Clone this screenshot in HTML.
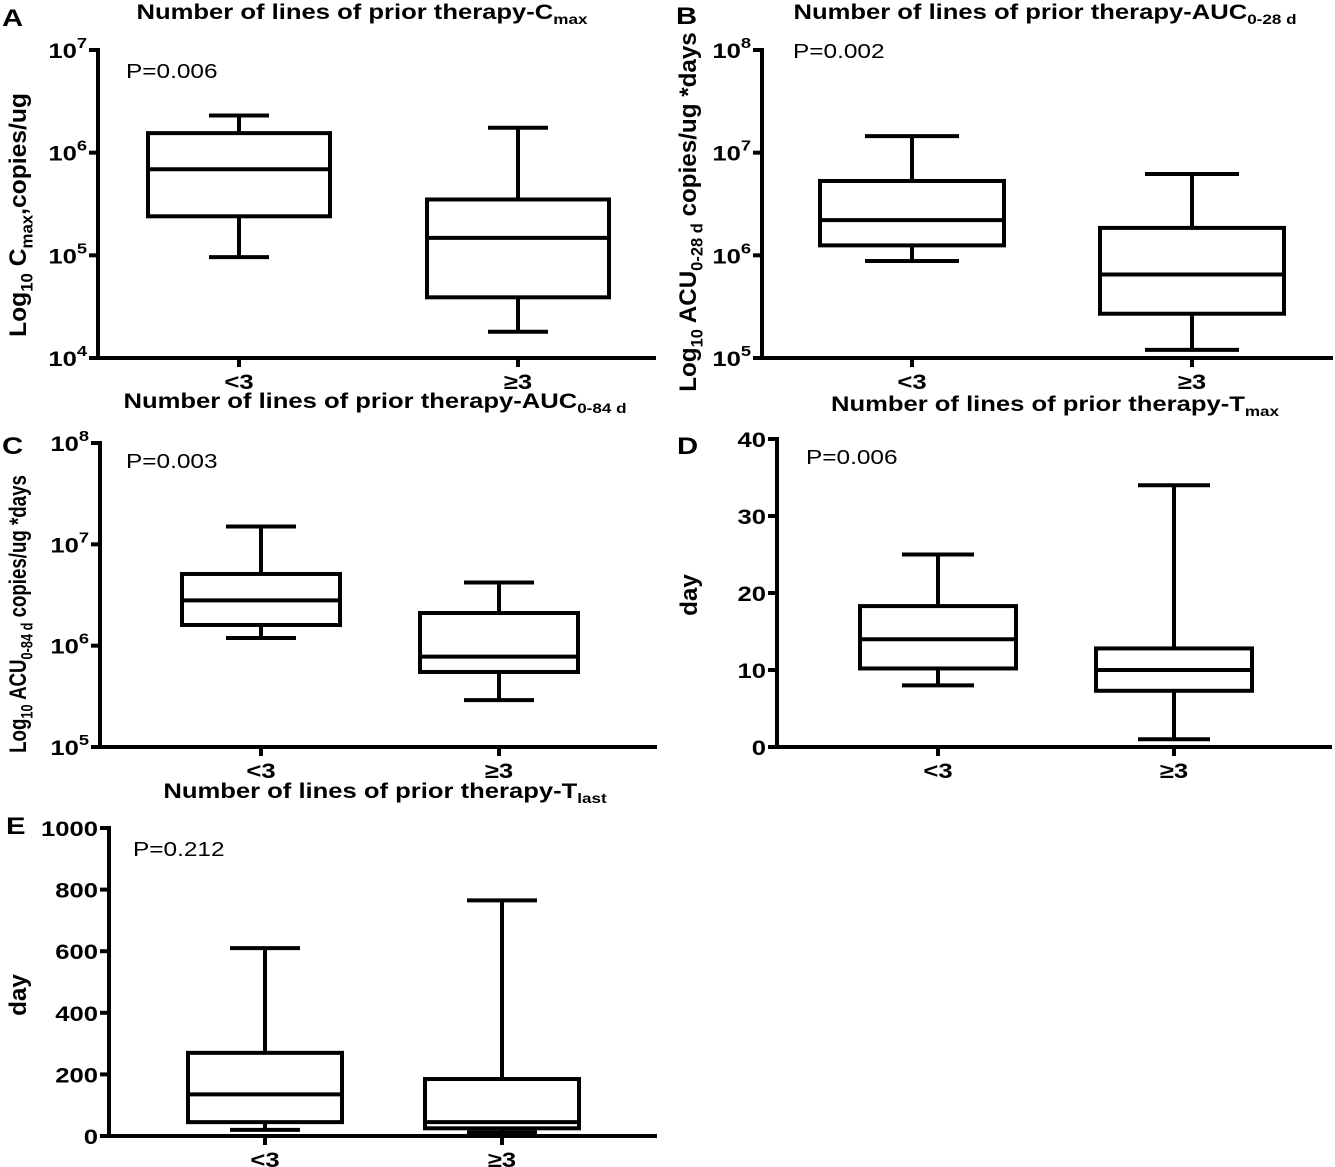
<!DOCTYPE html>
<html><head><meta charset="utf-8">
<style>
html,body{margin:0;padding:0;background:#fff;}
svg{display:block;font-family:"Liberation Sans",Arial,sans-serif;}
.tk{font-weight:bold;font-size:21px;}
.ttl{font-weight:bold;font-size:21px;}
.ylt{font-weight:bold;font-size:22px;}
.pv{font-size:20px;}
.let{font-weight:bold;font-size:24px;}
</style></head>
<body>
<svg id="fig" width="1335" height="1167" viewBox="0 0 1335 1167"></svg>
<script>
const categories = ["<3", "≥3"];
// [lowerWhisker, Q1, median, Q3, upperWhisker]
const cmaxLt3 = [9.6e4, 2.4e5, 6.9e5, 1.55e6, 2.3e6];
const cmaxGe3 = [1.8e4, 3.9e4, 1.48e5, 3.5e5, 1.75e6];
const auc28Lt3 = [8.8e5, 1.25e6, 2.2e6, 5.3e6, 1.45e7];
const auc28Ge3 = [1.2e5, 2.7e5, 6.5e5, 1.85e6, 6.2e6];
const auc84Lt3 = [1.19e6, 1.6e6, 2.8e6, 5.1e6, 1.5e7];
const auc84Ge3 = [2.9e5, 5.5e5, 7.8e5, 2.1e6, 4.2e6];
const tmaxLt3 = [8, 10.2, 14, 18.3, 25];
const tmaxGe3 = [1, 7.3, 10, 12.8, 34];
const tlastLt3 = [20, 45, 135, 270, 610];
const tlastGe3 = [12, 25, 45, 185, 765];
const logTicksA = [4, 5, 6, 7];
const logTicksB = [5, 6, 7, 8];
const tmaxTicks = [0, 10, 20, 30, 40];
const tlastTicks = [0, 200, 400, 600, 800, 1000];
const pValues = ["P=0.006", "P=0.002", "P=0.003", "P=0.006", "P=0.212"];

const NS = "http://www.w3.org/2000/svg";
const svg = document.getElementById("fig");
const SX = 1.22;
function el(tag, attrs, parent) {
  const e = document.createElementNS(NS, tag);
  for (const k in attrs) e.setAttribute(k, attrs[k]);
  (parent || svg).appendChild(e);
  return e;
}
function stext(g, x, y, cls, anchor) {
  return el("text", {x:0, y:0, class:cls, "text-anchor":anchor || "start",
    transform:`translate(${x},${y}) scale(${SX},1)`}, g);
}
function line(g, x1, y1, x2, y2, name) {
  const l = el("line", {x1, y1, x2, y2, stroke: "#000", "stroke-width": 4}, g);
  
  
  return l;
}

const panels = [
  {id:"a", letter:"A", lx:2, ly:26, title:"Number of lines of prior therapy-C", sub:"max", tx:362, ty:19,
   ax:98, top:50, bot:358, xend:656, log:true, lo:4, hi:7, ticks:logTicksA,
   cx:[239,518], bw:91, cw:30, data:[cmaxLt3, cmaxGe3], p:pValues[0], px:126, py:78,
   ylab:["Log", "10", " C", "max", ",copies/ug"], ylx:26, yly:215, ys:1.12},
  {id:"b", letter:"B", lx:676, ly:24, title:"Number of lines of prior therapy-AUC", sub:"0-28 d", tx:1045, ty:19,
   ax:762, top:50, bot:358, xend:1333, log:true, lo:5, hi:8, ticks:logTicksB,
   cx:[912,1192], bw:92, cw:47, data:[auc28Lt3, auc28Ge3], p:pValues[1], px:793, py:58,
   ylab:["Log", "10", " ACU", "0-28 d", " copies/ug *days"], ylx:696, yly:212, ys:1.1},
  {id:"c", letter:"C", lx:2, ly:454, title:"Number of lines of prior therapy-AUC", sub:"0-84 d", tx:375, ty:408,
   ax:100, top:443, bot:747, xend:657, log:true, lo:5, hi:8, ticks:logTicksB,
   cx:[261,499], bw:79, cw:35, data:[auc84Lt3, auc84Ge3], p:pValues[2], px:126, py:468,
   ylab:["Log", "10", " ACU", "0-84 d", " copies/ug *days"], ylx:26, yly:614, ys:0.85},
  {id:"d", letter:"D", lx:677, ly:454, title:"Number of lines of prior therapy-T", sub:"max", tx:1055, ty:411,
   ax:777, top:439, bot:747, xend:1332, log:false, lo:0, hi:40, ticks:tmaxTicks,
   cx:[938,1174], bw:78, cw:36, data:[tmaxLt3, tmaxGe3], p:pValues[3], px:806, py:464,
   ylab:["day"], ylx:697, yly:595, ys:1.1},
  {id:"e", letter:"E", lx:6, ly:834, title:"Number of lines of prior therapy-T", sub:"last", tx:385, ty:798,
   ax:109, top:828, bot:1136, xend:657, log:false, lo:0, hi:1000, ticks:tlastTicks,
   cx:[265,502], bw:77, cw:35, data:[tlastLt3, tlastGe3], p:pValues[4], px:133, py:856,
   ylab:["day"], ylx:26, yly:995, ys:1.1}
];

panels.forEach(P => {
  const g = el("g", {});
  
  
  const yS = v => {
    const t = P.log ? (Math.log10(v) - P.lo) / (P.hi - P.lo) : (v - P.lo) / (P.hi - P.lo);
    return P.bot - t * (P.bot - P.top);
  };
  const tickY = t => P.log ? P.bot - (t - P.lo) / (P.hi - P.lo) * (P.bot - P.top) : yS(t);

  const L = stext(g, P.lx, P.ly, "let");
  L.textContent = P.letter;
  
  

  const T = stext(g, P.tx, P.ty, "ttl", "middle");
  
  
  const t1 = el("tspan", {}, T); t1.textContent = P.title;
  const t2 = el("tspan", {dy:5, "font-size":14}, T); t2.textContent = P.sub;

  const pv = stext(g, P.px, P.py, "pv");
  pv.textContent = P.p;
  
  

  const yl = el("text", {x:0, y:0, class:"ylt", "text-anchor":"middle",
    transform:`translate(${P.ylx},${P.yly}) rotate(-90) scale(${P.ys},1.1)`}, g);
  
  
  P.ylab.forEach((s, i) => {
    const ts = el("tspan", i % 2 === 1 ? {dy:6, "font-size":15} : (i > 0 ? {dy:-6} : {}), yl);
    ts.textContent = s;
  });

  line(g, P.ax, P.top - 2, P.ax, P.bot + 2, 'y-axis');
  line(g, P.ax - 2, P.bot, P.xend, P.bot, 'x-axis');
  P.ticks.forEach(t => {
    const y = tickY(t);
    line(g, P.ax - 9, y, P.ax, y, 'y-tick');
    const tx = stext(g, P.ax - 11, y + 8, "tk", "end");
    
    
    if (P.log) {
      const a = el("tspan", {}, tx); a.textContent = "10";
      const b = el("tspan", {dy:-10, "font-size":15}, tx); b.textContent = String(t);
    } else {
      tx.textContent = String(t);
    }
  });
  categories.forEach((c, i) => {
    const cx = P.cx[i];
    line(g, cx, P.bot, cx, P.bot + 9, 'x-tick');
    const lt = stext(g, cx, P.bot + 31, "tk", "middle");
    lt.textContent = c;
    
    
    const d = P.data[i];
    const bg = el("g", {}, g);
    
    
    line(bg, cx, yS(d[4]), cx, yS(d[3]), 'upper-whisker');
    line(bg, cx, yS(d[1]), cx, yS(d[0]), 'lower-whisker');
    line(bg, cx - P.cw, yS(d[4]), cx + P.cw, yS(d[4]), 'whisker-cap');
    line(bg, cx - P.cw, yS(d[0]), cx + P.cw, yS(d[0]), 'whisker-cap');
    const r = el("rect", {x:cx - P.bw, y:yS(d[3]), width:2 * P.bw, height:yS(d[1]) - yS(d[3]),
      fill:"#fff", stroke:"#000", "stroke-width":4}, bg);
    
    
    line(bg, cx - P.bw, yS(d[2]), cx + P.bw, yS(d[2]), 'median-line');
  });
});
</script>
</body></html>
